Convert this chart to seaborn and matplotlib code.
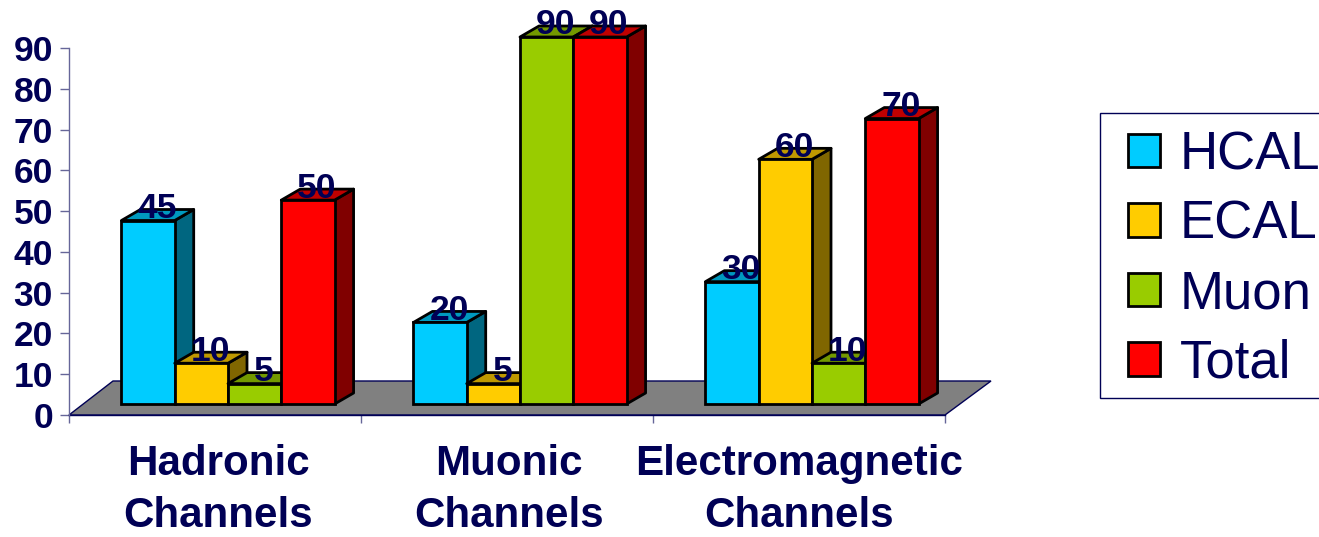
import pandas as pd
import matplotlib
matplotlib.use('Agg')
import matplotlib.pyplot as plt
from matplotlib.colors import to_rgb
from matplotlib.patches import Polygon, Rectangle
import seaborn as sns

# data
channels = ["Hadronic\nChannels", "Muonic\nChannels", "Electromagnetic\nChannels"]
detectors = ["HCAL", "ECAL", "Muon", "Total"]
hcal = [45, 20, 30]
ecal = [10, 5, 60]
muon = [5, 90, 10]
total = [50, 90, 70]
colors = ["#00CCFF", "#FFCC00", "#99CC00", "#FF0000"]

df = pd.DataFrame({"channel": channels * 4,
                   "detector": [d for d in detectors for _ in channels],
                   "value": hcal + ecal + muon + total})

W, H = 1319, 537
NAVY = "#000055"
AXIS = "#666699"
PT = 0.72  # one pixel in points at dpi 100

sns.set_theme(style="white")
plt.rcParams['font.family'] = ['Liberation Sans', 'DejaVu Sans']

fig = plt.figure(figsize=(W / 100, H / 100), dpi=100, facecolor='white')
ax = fig.add_axes([69 / W, 1 - 415 / H, 876 / W, 367 / H])

sns.barplot(data=df, x="channel", y="value", hue="detector", order=channels,
            hue_order=detectors, palette=colors, saturation=1, width=0.73,
            edgecolor='black', linewidth=2, ax=ax)
ax.set_ylim(0, 90)
ax.set_xlim(-0.5, 2.5)
ax.patch.set_alpha(0)

# fake 3D: px sizes turned into data units
px_x = 3 / 876
px_y = 90 / 367
shift_x = 13 * px_x
lift = 11 * px_y
depth_x = 19 * px_x
depth_y = 11 * px_y


def shade(col, f):
    return tuple(c * f for c in to_rgb(col))


ax.add_patch(Polygon([(-0.5, 0), (2.5, 0), (2.5 + 46 * px_x, 34 * px_y),
                      (-0.5 + 44 * px_x, 34 * px_y)], closed=True,
                     facecolor='#808080', edgecolor=NAVY, lw=1, zorder=1,
                     clip_on=False))

for h, (col, cont) in enumerate(zip(colors, ax.containers)):
    for i, bar in enumerate(cont):
        x0 = bar.get_x() + shift_x
        w = bar.get_width()
        val = int(bar.get_height())
        bar.set_x(x0)
        bar.set_y(lift)
        bar.set_clip_on(False)
        # later categories and later hues sit over earlier ones
        order = 2 + i * 20 + h * 3
        bar.set_zorder(order + 2)
        x1 = x0 + w
        top = lift + val
        ax.add_patch(Polygon([(x1, lift), (x1 + depth_x, lift + depth_y),
                              (x1 + depth_x, top + depth_y), (x1, top)],
                             closed=True, facecolor=shade(col, 0.5),
                             edgecolor='black', lw=2, zorder=order + 1,
                             clip_on=False, joinstyle='round'))
        ax.add_patch(Polygon([(x0, top), (x1, top), (x1 + depth_x, top + depth_y),
                              (x0 + depth_x, top + depth_y)],
                             closed=True, facecolor=shade(col, 0.75),
                             edgecolor='black', lw=2, zorder=order + 1,
                             clip_on=False, joinstyle='round'))
        ax.text(x0 + w / 2 + 9 * px_x, top + 12 * px_y, str(val), ha='center',
                va='center', fontsize=25.5, fontweight='bold', color=NAVY,
                zorder=100, clip_on=False)

ax.set_xlabel("")
ax.set_ylabel("")
ax.set_yticks(range(0, 100, 10))
ax.set_xticks([0.012, 1.006, 2.0])
ax.set_xticklabels(channels, fontsize=30.3, fontweight='bold', color=NAVY,
                   linespacing=1.38)
ax.set_xticks([-0.5, 0.5, 1.5, 2.5], minor=True)
ax.tick_params(axis='x', which='major', length=0, pad=21)
ax.tick_params(axis='x', which='minor', length=8 * PT, width=1, color=AXIS, bottom=True)
ax.tick_params(axis='y', length=9 * PT, width=1, color=AXIS, left=True, pad=7 * PT,
               labelsize=25.5, labelcolor=NAVY)
for lab in ax.get_yticklabels():
    lab.set_fontweight('bold')

sns.despine(ax=ax, top=True, right=True)
ax.spines['left'].set_color(AXIS)
ax.spines['left'].set_linewidth(1)
ax.spines['bottom'].set_color(NAVY)
ax.spines['bottom'].set_linewidth(1)
ax.spines['bottom'].set_zorder(1.5)

# legend box runs off the right edge of the picture
fig.add_artist(Rectangle((1100 / W, 1 - 398 / H), 240 / W, 285 / H,
                         transform=fig.transFigure, facecolor='white',
                         edgecolor=NAVY, lw=1, zorder=-1))
handles, labels = ax.get_legend_handles_labels()
leg = ax.legend(handles, labels, loc='upper left',
                bbox_to_anchor=(1128 / W, 1 - 130 / H),
                bbox_transform=fig.transFigure, borderaxespad=0, fontsize=38,
                handlelength=0.6, handleheight=0.6, handletextpad=0.38,
                labelspacing=0.37, borderpad=0, frameon=False, labelcolor=NAVY)
leg.set_zorder(200)

fig.savefig("out.png", dpi=100, facecolor='white')
